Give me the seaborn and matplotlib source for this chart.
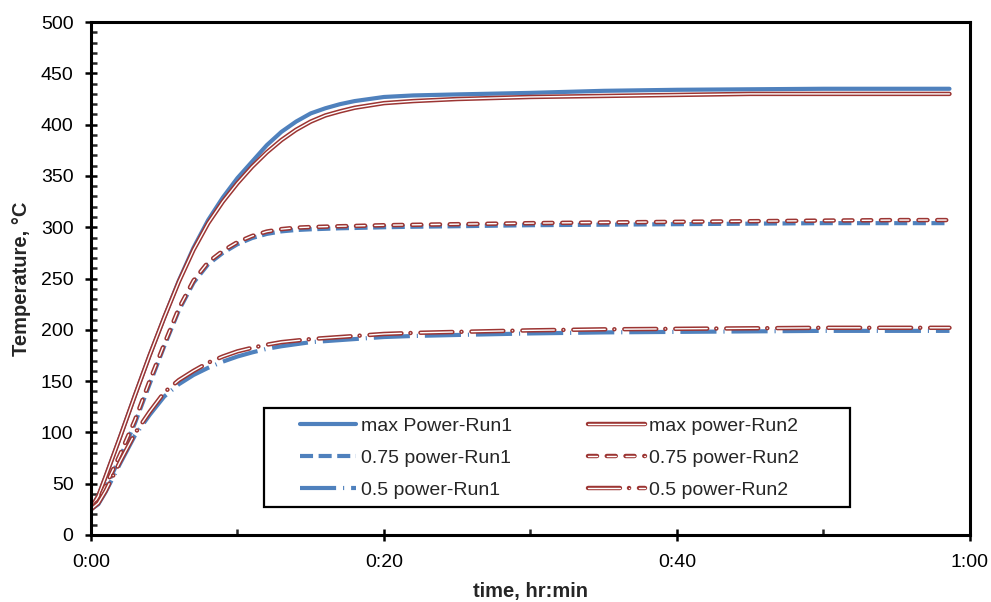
import matplotlib
matplotlib.use("Agg")
import matplotlib.pyplot as plt
import matplotlib.patheffects as pe
from matplotlib.patches import Rectangle
from matplotlib.ticker import MultipleLocator, FixedLocator
import seaborn as sns

# ---------------- data (minutes, degC) ----------------
time_min = [0, 0.5, 1, 2, 3, 4, 5, 6, 7, 8, 9, 10, 11, 12, 13, 14, 15, 16, 17, 18,
            20, 22, 25, 30, 35, 40, 45, 50, 55, 58.6]
max_run1 = [27, 38, 57, 96, 136, 175, 212, 248, 280, 307, 329, 348, 364, 380, 393, 403, 411, 416, 420, 423,
            427, 428.5, 429.5, 431, 433, 434, 434.5, 435, 435, 435]
max_run2 = [26, 38, 57, 96, 136, 175, 212, 247, 278, 304, 325, 343, 359, 373, 385, 395, 403, 409, 413, 416.5,
            421, 423, 425, 427, 428, 429, 430, 430, 430, 430]
p75_run1 = [25, 32, 46, 76, 109, 147, 184, 219, 246, 264, 275, 283.5, 289.5, 293.5, 296, 297.3, 298, 298.5, 299, 299.3,
            300, 300.5, 301, 302, 302.5, 303, 303.5, 304, 304, 304]
p75_run2 = [25, 33, 48, 79, 112, 150, 186, 221, 248, 266, 277, 285.5, 291.5, 295.8, 298.2, 299.6, 300.2, 300.6, 301, 301.3,
            302, 302.4, 303, 304, 304.7, 305.3, 305.9, 306.5, 307, 307]
p50_run1 = [25, 30, 42, 70, 97, 117, 135, 147, 156, 163, 169, 174, 178, 181.5, 184, 186, 188, 189, 190, 191,
            193, 194, 195, 196.5, 197.5, 198, 198.5, 199, 199, 199]
p50_run2 = [25, 31, 43, 72, 99, 120, 139, 151, 160, 168, 174, 179, 182.5, 185.5, 188, 189.5, 191, 192, 193, 194,
            196, 197, 198, 199.5, 200.5, 201, 201.5, 202, 202, 202]

labels_run1 = ["max Power-Run1", "0.75 power-Run1", "0.5 power-Run1"]
labels_run2 = ["max power-Run2", "0.75 power-Run2", "0.5 power-Run2"]
xtick_vals = [0, 20, 40, 60]
xtick_labels = ["0:00", "0:20", "0:40", "1:00"]

# ---------------- style ----------------
sns.set_style("white")
plt.rcParams["font.family"] = ["Liberation Sans", "DejaVu Sans"]
plt.rcParams["lines.scale_dashes"] = False

BLUE = "#4F81BD"
RED = "#9C3533"

fig = plt.figure(figsize=(9.91, 6.02), dpi=100)
ax = fig.add_axes([0.0918, 0.1113, 0.887, 0.852])

blue_lw = 3.0
red_inner = 1.0
red_outer = 3.2
red_fx = [pe.Stroke(linewidth=red_outer, foreground=RED), pe.Normal()]

# Run1 series
sns.lineplot(x=time_min, y=max_run1, ax=ax, color=BLUE, lw=blue_lw,
             linestyle="-", label=labels_run1[0], sort=False)
sns.lineplot(x=time_min, y=p75_run1, ax=ax, color=BLUE, lw=blue_lw,
             linestyle=(0, (9.4, 4.0)), label=labels_run1[1], sort=False)
sns.lineplot(x=time_min, y=p50_run1, ax=ax, color=BLUE, lw=blue_lw,
             linestyle=(0, (26, 5, 0.8, 5)), label=labels_run1[2], sort=False)

# Run2 series (outlined "double" lines)
sns.lineplot(x=time_min, y=max_run2, ax=ax, color="white", lw=red_inner,
             linestyle="-", label=labels_run2[0], sort=False,
             path_effects=red_fx, solid_capstyle="round")
sns.lineplot(x=time_min, y=p75_run2, ax=ax, color="white", lw=red_inner,
             linestyle=(0, (6.5, 7.0)), label=labels_run2[1], sort=False,
             path_effects=red_fx, dash_capstyle="round")
sns.lineplot(x=time_min, y=p50_run2, ax=ax, color="white", lw=red_inner,
             linestyle=(0, (23, 6.5, 0.1, 7.1)), label=labels_run2[2], sort=False,
             path_effects=red_fx, dash_capstyle="round")

# ---------------- axes ----------------
ax.set_xlim(0, 60)
ax.set_ylim(0, 500)
ax.xaxis.set_major_locator(FixedLocator(xtick_vals))
ax.set_xticklabels(xtick_labels)
ax.xaxis.set_minor_locator(MultipleLocator(10))
ax.yaxis.set_major_locator(MultipleLocator(50))
ax.yaxis.set_minor_locator(MultipleLocator(10))

ax.tick_params(axis="both", which="major", direction="inout", length=9, width=1.8,
               labelsize=14, colors="black", bottom=True, left=True, top=False, right=False)
ax.tick_params(axis="both", which="minor", direction="in", length=4, width=1.8,
               bottom=True, left=True, top=False, right=False)
ax.tick_params(axis="y", which="major", pad=8)
ax.tick_params(axis="x", which="major", pad=9)

for s in ax.spines.values():
    s.set_visible(True)
    s.set_color("black")
    s.set_linewidth(2.2)

ax.set_xlabel("time, hr:min", fontsize=14.5, fontweight="bold", labelpad=8)
ax.set_ylabel("Temperature, °C", fontsize=14.5, fontweight="bold", labelpad=7)

# ---------------- legend ----------------
h, l = ax.get_legend_handles_labels()
order = labels_run1 + labels_run2
hd = dict(zip(l, h))
handles = [hd[k] for k in order]

ax.add_patch(Rectangle((0.197, 0.0546), 0.6665, 0.193, transform=ax.transAxes,
                       fill=True, facecolor="white", edgecolor="black", lw=1.6, zorder=4))
leg = ax.legend(handles, order, ncol=2, loc="center left",
                bbox_to_anchor=(0.2378, 0.150), frameon=False,
                fontsize=14, handlelength=2.9, handletextpad=0.25,
                columnspacing=3.9, labelspacing=0.75, borderpad=0, borderaxespad=0)
leg.set_zorder(5)

fig.savefig("out.png", dpi=100)
